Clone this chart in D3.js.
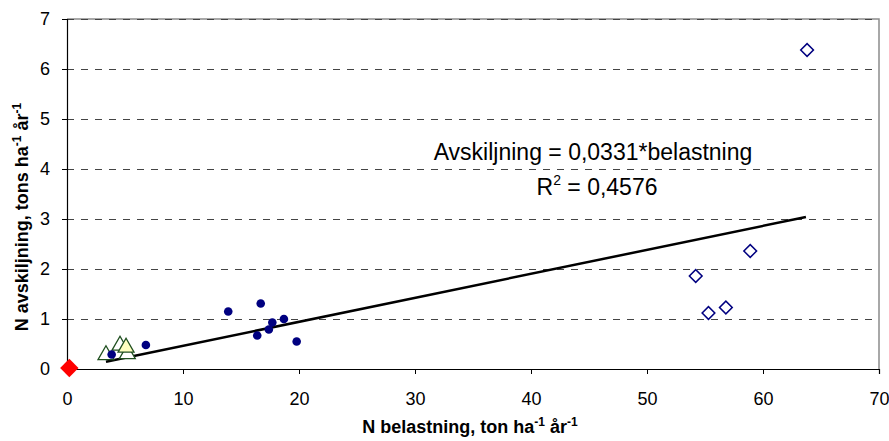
<!DOCTYPE html>
<html><head><meta charset="utf-8">
<script src="https://cdn.jsdelivr.net/npm/d3@7"></script>
<style>body{margin:0;background:#fff}svg{display:block}text{font-family:Arial,"Liberation Sans",sans-serif}</style>
</head><body>
<svg id="c" width="889" height="441"></svg>
<script>
// Data
const xTicks = [0,10,20,30,40,50,60,70];
const yTicks = [0,1,2,3,4,5,6,7];
const circleX = [3.85, 6.8, 13.9, 16.7, 16.4, 17.4, 17.7, 18.7, 19.8];
const circleY = [0.29, 0.48, 1.15, 1.31, 0.67, 0.79, 0.93, 1.00, 0.55];
const triOpenX = [3.36, 4.57, 5.2];
const triOpenY = [0.26, 0.45, 0.28];
const triFillX = [5.09];
const triFillY = [0.41];
const redX = [0.2];
const redY = [0.02];
const diamondX = [58.9, 54.2, 55.3, 56.8, 63.8];
const diamondY = [2.36, 1.86, 1.12, 1.23, 6.38];
const trendX = [3.36, 63.7];
const trendY = [0.146, 3.04];
const eqLine1 = "Avskiljning = 0,0331*belastning";
const eqLine2 = ["R", "2", " = 0,4576"];

const svg = d3.select("#c");
const L = 67, R = 879, T = 19, B = 369;
const x = d3.scaleLinear().domain([0,70]).range([L,R]);
const y = d3.scaleLinear().domain([0,7]).range([B,T]);

// plot border (gray)
svg.append("path").attr("d", `M${L},${T}H${R}V${B}`).attr("fill","none").attr("stroke","#8c8c8c").attr("stroke-width",1.5);

// gridlines
svg.append("g").selectAll("line").data(yTicks.filter(d=>d>0)).join("line")
  .attr("x1", L).attr("x2", R).attr("y1", d=>y(d)+0.5).attr("y2", d=>y(d)+0.5)
  .attr("stroke","#444").attr("stroke-width",1).attr("stroke-dasharray","7,7");

// axes
const xAxis = d3.axisBottom(x).tickValues(xTicks).tickSize(5).tickPadding(18).tickFormat(d3.format("d"));
const yAxis = d3.axisLeft(y).tickValues(yTicks).tickSize(5).tickPadding(12).tickFormat(d3.format("d"));
const gx = svg.append("g").attr("transform", `translate(0,${B})`).call(xAxis);
const gy = svg.append("g").attr("transform", `translate(${L},0)`).call(yAxis);
[gx, gy].forEach(g => {
  g.select(".domain").attr("stroke","#000").attr("stroke-width",1.2);
  g.selectAll(".tick line").attr("stroke","#000");
  g.selectAll(".tick text").attr("fill","#000").style("font-size","18px").style("font-family","Arial, 'Liberation Sans', sans-serif");
});

// trendline
svg.append("line")
  .attr("x1", x(trendX[0])).attr("y1", y(trendY[0]))
  .attr("x2", x(trendX[1])).attr("y2", y(trendY[1]))
  .attr("stroke","#000").attr("stroke-width",2.5);

// triangles
const tri = d3.symbol().type(d3.symbolTriangle).size(110);
svg.append("g").selectAll("path").data(d3.zip(triOpenX, triOpenY)).join("path")
  .attr("d", tri).attr("transform", d=>`translate(${x(d[0])},${y(d[1])-1})`)
  .attr("fill","#fff").attr("stroke","#1f4f1f").attr("stroke-width",1.3);

// circles
svg.append("g").selectAll("circle").data(d3.zip(circleX, circleY)).join("circle")
  .attr("cx", d=>x(d[0])).attr("cy", d=>y(d[1])).attr("r", 4.3).attr("fill","#000080");

svg.append("g").selectAll("path").data(d3.zip(triFillX, triFillY)).join("path")
  .attr("d", tri).attr("transform", d=>`translate(${x(d[0])},${y(d[1])-1})`)
  .attr("fill","#ffffc0").attr("stroke","#1f4f1f").attr("stroke-width",1.3);

// open diamonds
svg.append("g").selectAll("rect").data(d3.zip(diamondX, diamondY)).join("rect")
  .attr("x", -4.5).attr("y", -4.5).attr("width", 9).attr("height", 9)
  .attr("transform", d=>`translate(${x(d[0])},${y(d[1])}) rotate(45)`)
  .attr("fill","#fff").attr("stroke","#000080").attr("stroke-width",1.5);

// red diamond
svg.append("g").selectAll("rect").data(d3.zip(redX, redY)).join("rect")
  .attr("x", -6.5).attr("y", -6.5).attr("width", 13).attr("height", 13)
  .attr("transform", d=>`translate(${x(d[0])},${y(d[1])}) rotate(45)`)
  .attr("fill","#ff0000");

// equation
svg.append("text").attr("x", 593).attr("y", 160).attr("text-anchor","middle")
  .style("font-size","23px").attr("fill","#000").text(eqLine1);
const t2 = svg.append("text").attr("x", 597).attr("y", 195).attr("text-anchor","middle")
  .style("font-size","23px").attr("fill","#000");
t2.append("tspan").text(eqLine2[0]);
t2.append("tspan").attr("dy", -10).style("font-size","14px").text(eqLine2[1]);
t2.append("tspan").attr("dy", 10).text(eqLine2[2]);

// axis titles
function title(sel, parts) {
  parts.forEach(p => {
    const ts = sel.append("tspan").text(p[0]);
    if (p[1]) ts.attr("dy", p[1]).style("font-size","12px");
    if (p[2]) ts.attr("dy", p[2]);
  });
}
const xt = svg.append("text").attr("x", 470).attr("y", 433).attr("text-anchor","middle")
  .style("font-size","18px").style("font-weight","bold").attr("fill","#000");
title(xt, [["N belastning, ton ha"],["-1",-7],[" år",null,7],["-1",-7],["",null,7]]);
const yt = svg.append("text").attr("transform", `translate(28,217) rotate(-90)`).attr("text-anchor","middle")
  .style("font-size","18px").style("font-weight","bold").attr("fill","#000");
title(yt, [["N avskiljning, tons ha"],["-1",-7],[" år",null,7],["-1",-7],["",null,7]]);
</script>
</body></html>
